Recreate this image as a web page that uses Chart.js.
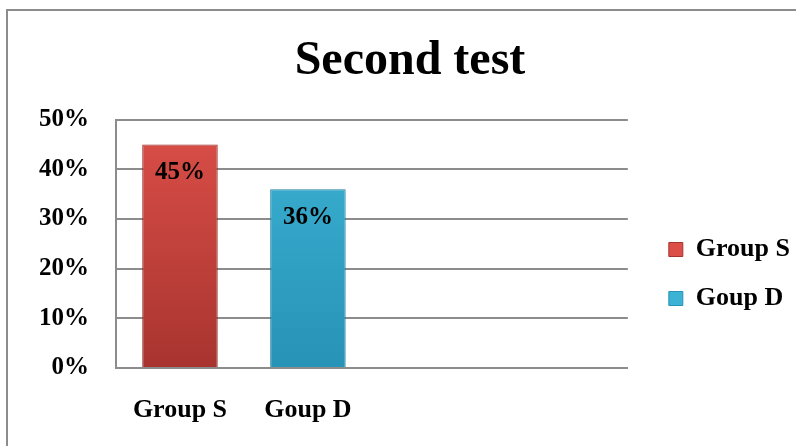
<!DOCTYPE html>
<html>
<head>
<meta charset="utf-8">
<script src="https://cdn.jsdelivr.net/npm/chart.js@4"></script>
<style>
  html, body { margin: 0; background: #fff; overflow: hidden; }
  .frame { position: absolute; left: 6px; top: 9px; width: 790px; height: 437px; border-left: 2px solid #8c8c8c; border-top: 2px solid #8c8c8c; box-sizing: border-box; }
  .wrap { position: absolute; left: 0; top: 0; width: 796px; height: 446px; }
</style>
</head>
<body>
<div class="frame"></div>
<div class="wrap"><canvas class="bar-chart"></canvas></div>
<script>
const categories = ['Group S', 'Goup D', '', ''];
const values = [45, 36, null, null];
const legendNames = ['Group S', 'Goup D'];
const yTicks = [0, 10, 20, 30, 40, 50];

const topColors = ['#dc4f49', '#3cb2d4'];
const bottomColors = ['#a8342f', '#2793b6'];

const serif = "'Liberation Serif', 'Times New Roman', serif";

const barFill = (ctx) => {
  const chart = ctx.chart;
  const area = chart.chartArea;
  const i = ctx.dataIndex % 2;
  if (!area) {
    return topColors[i];
  }
  const g = chart.ctx.createLinearGradient(0, area.top, 0, area.bottom);
  g.addColorStop(0, topColors[i]);
  g.addColorStop(1, bottomColors[i]);
  return g;
};

const valueLabels = {
  id: 'valueLabels',
  afterDatasetsDraw(chart) {
    const ctx = chart.ctx;
    const meta = chart.getDatasetMeta(0);
    ctx.save();
    ctx.font = 'bold 25px ' + serif;
    ctx.fillStyle = '#000';
    ctx.textAlign = 'center';
    ctx.textBaseline = 'top';
    meta.data.forEach((bar, i) => {
      if (values[i] === null) {
        return;
      }
      ctx.fillText(values[i] + '%', bar.x, bar.y + 16);
    });
    ctx.restore();
  },
};

// push the legend a bit away from the plot, like the original
const legendShift = {
  id: 'legendShift',
  afterLayout(chart) {
    chart.legend.left += 18;
    chart.legend.right += 18;
  },
};

const renderChart = () => {
  const canvas = document.querySelector('.bar-chart');

  new Chart(canvas, {
    type: 'bar',
    data: {
      labels: categories,
      datasets: [
        {
          data: values,
          backgroundColor: barFill,
          borderColor: ['#8e2a26', '#1f7e9c'],
          borderWidth: 1,
          categoryPercentage: 1,
          barPercentage: 0.59,
        },
      ],
    },
    options: {
      responsive: true,
      maintainAspectRatio: false,
      animation: false,
      layout: {
        padding: { left: 38, right: 14, top: 24, bottom: 0 },
      },
      plugins: {
        title: {
          display: true,
          text: 'Second test',
          color: '#000',
          font: { family: serif, size: 48, weight: 'bold' },
          padding: { top: 9, bottom: 29 },
        },
        legend: {
          display: true,
          position: 'right',
          title: {
            display: true,
            text: ' ',
            color: '#000',
            font: { size: 10 },
            padding: { top: 33, bottom: 33 },
          },
          labels: {
            color: '#000',
            font: { family: serif, size: 26, weight: 'bold' },
            boxWidth: 14,
            boxHeight: 14,
            padding: 23,
            generateLabels: () => legendNames.map((name, i) => ({
              text: name,
              fillStyle: topColors[i],
              strokeStyle: bottomColors[i],
              fontColor: '#000',
              lineWidth: 1,
              index: i,
            })),
          },
          onClick: () => {},
        },
        tooltip: { enabled: false },
      },
      scales: {
        x: {
          afterFit: (scale) => {
            scale.height = 78;
          },
          grid: { display: false, drawTicks: false },
          border: { color: '#8c8c8c', width: 2 },
          ticks: {
            color: '#000',
            padding: 27,
            font: { family: serif, size: 26, weight: 'bold' },
          },
        },
        y: {
          min: 0,
          max: 50,
          afterBuildTicks: (scale) => {
            scale.ticks = yTicks.map((v) => ({ value: v }));
          },
          afterFit: (scale) => {
            scale.width = 78;
          },
          grid: { color: '#8c8c8c', lineWidth: 2, drawTicks: false },
          border: { color: '#8c8c8c', width: 2 },
          ticks: {
            color: '#000',
            padding: 27,
            font: { family: serif, size: 25, weight: 'bold' },
            callback: (v) => v + '%',
          },
        },
      },
    },
    plugins: [valueLabels, legendShift],
  });
};

renderChart();
</script>
</body>
</html>
